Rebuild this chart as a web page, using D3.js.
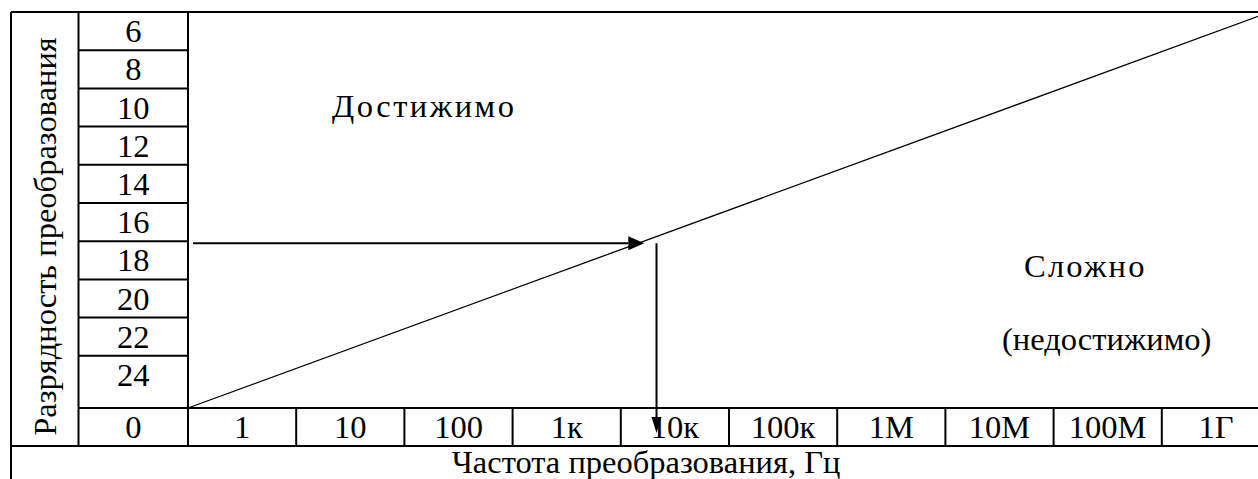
<!DOCTYPE html>
<html><head><meta charset="utf-8">
<script src="https://cdn.jsdelivr.net/npm/d3@7"></script>
<style>body{margin:0;background:#fff;}svg{display:block;}</style>
</head><body><svg id="c" width="1258" height="479"></svg>
<script>
// ---- data ----
const resolutions = [6, 8, 10, 12, 14, 16, 18, 20, 22, 24];
const zeroLabel = "0";
const freqLabels = ["1", "10", "100", "1к", "10к", "100к", "1М", "10М", "100М", "1Г"];
const yTitle = "Разрядность преобразования";
const xTitle = "Частота преобразования, Гц";
const regionLabels = ["Достижимо", "Сложно", "(недостижимо)"];
// boundary line: from (decade 0, bottom) to (decade 10, top)
const boundaryDecades = [0, 10];
const boundaryLevels = [0, 1];
// example: resolution level at boundary between 16 and 18 bits
const exampleRowBoundary = 6;     // boundary index between "16" and "18"
const exampleDecade = 4.33;       // ~ 20 kHz, in decades from 1 Hz

// ---- layout ----
const svg = d3.select("#c");
const L = 11, T = 12, C1 = 78.5, C2 = 188, R = 1270;
const rowH = 38.2, lastRowBottom = 408, xRowBottom = 446;
const black = "#000";
const font = "'Liberation Serif', 'DejaVu Serif', serif";
const fs = 32.5;

// scales
const xDec = d3.scaleLinear().domain([0, freqLabels.length]).range([C2, R]);
const xBand = d3.scaleBand().domain(freqLabels).range([C2, R]);
const yRowTop = i => T + i * rowH;
const yRowBottom = i => (i === resolutions.length - 1 ? lastRowBottom : T + (i + 1) * rowH);
const yLevel = d3.scaleLinear().domain([0, 1]).range([lastRowBottom, T]);

const g = svg.append("g").attr("font-family", font).attr("font-size", fs).attr("fill", black);

// row cells in value column
resolutions.forEach((r, i) => {
  const y0 = yRowTop(i), y1 = yRowBottom(i);
  g.append("line").attr("x1", C1).attr("x2", C2).attr("y1", y1).attr("y2", y1)
    .attr("stroke", black).attr("stroke-width", 2);
  const cy = i === resolutions.length - 1 ? y0 + rowH / 2 : (y0 + y1) / 2;
  g.append("text").attr("x", (C1 + C2) / 2).attr("y", cy + 11)
    .attr("text-anchor", "middle").text(r);
});

// frequency row
g.append("line").attr("x1", C1).attr("x2", R).attr("y1", lastRowBottom).attr("y2", lastRowBottom)
  .attr("stroke", black).attr("stroke-width", 2);
g.append("line").attr("x1", L).attr("x2", R).attr("y1", xRowBottom).attr("y2", xRowBottom)
  .attr("stroke", black).attr("stroke-width", 2);
const xRowMid = (lastRowBottom + xRowBottom) / 2;
g.append("text").attr("x", (C1 + C2) / 2).attr("y", xRowMid + 11)
  .attr("text-anchor", "middle").text(zeroLabel);
freqLabels.forEach((f, i) => {
  const x0 = xBand(f);
  if (i > 0) g.append("line").attr("x1", x0).attr("x2", x0).attr("y1", lastRowBottom).attr("y2", xRowBottom)
    .attr("stroke", black).attr("stroke-width", 2);
  g.append("text").attr("x", x0 + xBand.bandwidth() / 2).attr("y", xRowMid + 11)
    .attr("text-anchor", "middle").text(f);
});

// outer frame and column separators
g.append("line").attr("x1", L).attr("x2", R).attr("y1", T).attr("y2", T).attr("stroke", black).attr("stroke-width", 2);
g.append("line").attr("x1", L).attr("x2", L).attr("y1", T).attr("y2", 479).attr("stroke", black).attr("stroke-width", 2);
g.append("line").attr("x1", C1).attr("x2", C1).attr("y1", T).attr("y2", xRowBottom).attr("stroke", black).attr("stroke-width", 2);
g.append("line").attr("x1", C2).attr("x2", C2).attr("y1", T).attr("y2", xRowBottom).attr("stroke", black).attr("stroke-width", 2);

// boundary diagonal
g.append("line")
  .attr("x1", xDec(boundaryDecades[0])).attr("y1", yLevel(boundaryLevels[0]))
  .attr("x2", xDec(boundaryDecades[1])).attr("y2", yLevel(boundaryLevels[1]))
  .attr("stroke", black).attr("stroke-width", 1.3);

// arrows
const ay = yRowTop(exampleRowBoundary) + 2;
const ax = xDec(exampleDecade);
const slope = (yLevel(boundaryLevels[0]) - yLevel(boundaryLevels[1])) / (xDec(boundaryDecades[1]) - xDec(boundaryDecades[0]));
const hx = xDec(boundaryDecades[0]) + (yLevel(boundaryLevels[0]) - ay) / slope;
g.append("line").attr("x1", C2 + 5).attr("x2", hx - 10).attr("y1", ay).attr("y2", ay)
  .attr("stroke", black).attr("stroke-width", 2);
g.append("path").attr("d", `M${hx + 6},${ay} L${hx - 10},${ay - 7} L${hx - 10},${ay + 7} Z`).attr("fill", black);
const vTip = 433;
g.append("line").attr("x1", ax).attr("x2", ax).attr("y1", ay).attr("y2", vTip - 12)
  .attr("stroke", black).attr("stroke-width", 2);
g.append("path").attr("d", `M${ax},${vTip} L${ax - 5},${vTip - 16} L${ax + 5},${vTip - 16} Z`).attr("fill", black);

// titles
g.append("text").attr("transform", `translate(56,236.5) rotate(-90)`)
  .attr("text-anchor", "middle").text(yTitle);
g.append("text").attr("x", 646).attr("y", 473)
  .attr("text-anchor", "middle").text(xTitle);

// region labels
g.append("text").attr("x", 332).attr("y", 117).attr("letter-spacing", 2.5).text(regionLabels[0]);
g.append("text").attr("x", 1024).attr("y", 277).attr("letter-spacing", 2.2).text(regionLabels[1]);
g.append("text").attr("x", 1002).attr("y", 350).text(regionLabels[2]);
</script></body></html>
